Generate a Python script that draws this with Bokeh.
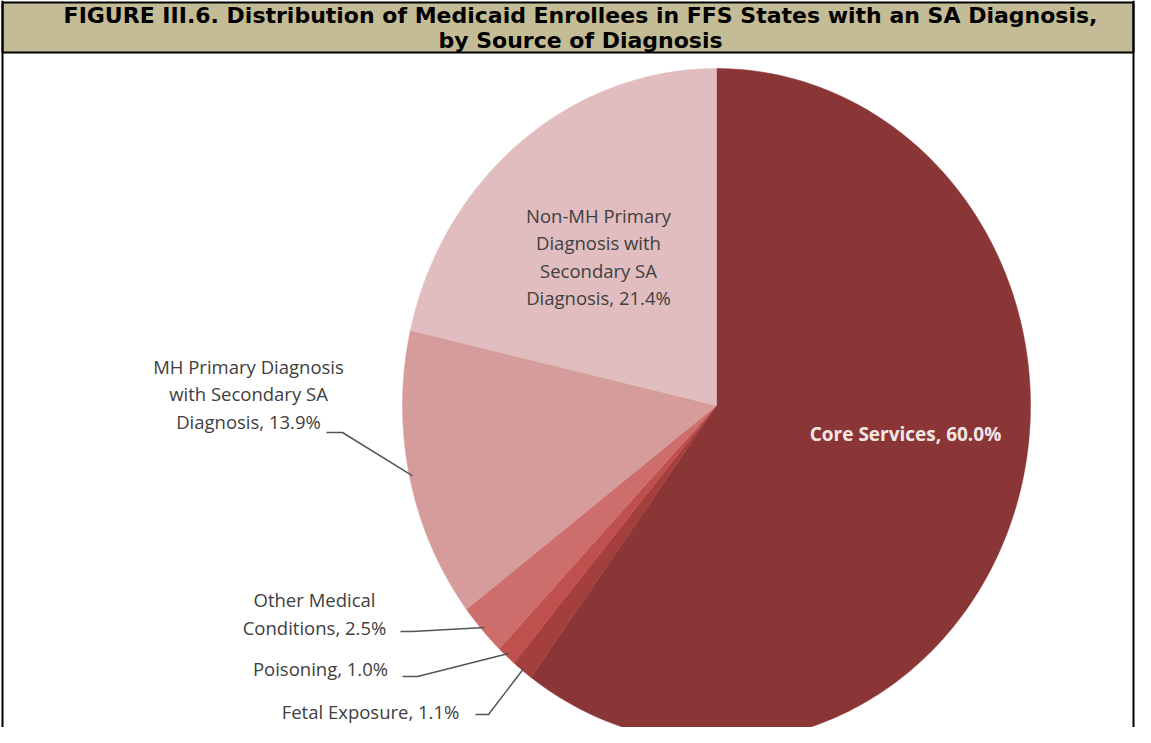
import textwrap
import numpy as np
from bokeh.plotting import figure
from bokeh.models import Range1d, Span, ColumnDataSource
from bokeh.core.properties import value
from bokeh.embed import file_html
from bokeh.resources import INLINE

# ---------------- data ----------------
categories = [
    "Core Services",
    "Fetal Exposure",
    "Poisoning",
    "Other Medical Conditions",
    "MH Primary Diagnosis with Secondary SA Diagnosis",
    "Non-MH Primary Diagnosis with Secondary SA Diagnosis",
]
percent = [60.0, 1.1, 1.0, 2.5, 13.9, 21.4]
colors = ["#8B3636", "#A53F3D", "#C0504D", "#CD6E6C", "#D69C9C", "#E1BDBF"]
title_lines = [
    "FIGURE III.6. Distribution of Medicaid Enrollees in FFS States with an SA Diagnosis,",
    "by Source of Diagnosis",
]

# ---------------- layout (screen pixel coordinates) ----------------
W, H = 1135, 727
CX, CY, RX, RY = 716, 405, 314, 337
wrap_width = [40, 40, 40, 16, 20, 16]
label_pos = [(905, 433), (370, 711), (320, 668), (314, 613), (248, 393), (598, 256)]
leader_start = [None, (475, 714), (402, 676), (400, 631), (326, 432), None]
leader_knee = [None, (488, 714), (417, 676), (412, 631), (342, 432), None]

p = figure(width=W, height=H, x_range=Range1d(0, W), y_range=Range1d(H, 0),
           output_backend="svg", toolbar_location=None, min_border=0)
p.axis.visible = False
p.grid.visible = False
p.outline_line_color = None
p.background_fill_color = "white"
p.border_fill_color = "white"

# pie slices (clockwise from 12 o'clock), derived from the data
fr = np.array(percent) / np.sum(percent)
cum = np.concatenate([[0], np.cumsum(fr)])
xs, ys, mids = [], [], []
for i in range(len(percent)):
    a0 = np.pi / 2 - 2 * np.pi * cum[i]
    a1 = np.pi / 2 - 2 * np.pi * cum[i + 1]
    n = max(4, int(400 * fr[i]))
    t = np.linspace(a0, a1, n)
    xs.append([CX] + list(CX + RX * np.cos(t)))
    ys.append([CY] + list(CY - RY * np.sin(t)))
    mids.append((a0 + a1) / 2)

p.patches(xs, ys, fill_color=colors, line_color=colors, line_width=0.5)

# labels
texts = []
for c, v, w in zip(categories, percent, wrap_width):
    texts.append(textwrap.fill(f"{c}, {v:.1f}%", width=w))

lab = ColumnDataSource(dict(
    x=[lp[0] for lp in label_pos[1:]],
    y=[lp[1] for lp in label_pos[1:]],
    t=texts[1:],
))
p.text("x", "y", "t", source=lab, text_align="center", text_baseline="middle",
       text_font=value("Open Sans"), text_font_size="18.5px", text_color="#404040",
       text_line_height=1.1)
p.text(x=[label_pos[0][0]], y=[label_pos[0][1]], text=[texts[0]],
       text_align="center", text_baseline="middle", text_font=value("Open Sans"),
       text_font_size="19px", text_font_style="bold", text_color="#F4E6E6")

# leader lines
lx, ly = [], []
for i in range(len(percent)):
    if leader_start[i] is None:
        continue
    ex = CX + 0.99 * RX * np.cos(mids[i])
    ey = CY - 0.99 * RY * np.sin(mids[i])
    lx.append([leader_start[i][0], leader_knee[i][0], ex])
    ly.append([leader_start[i][1], leader_knee[i][1], ey])
p.multi_line(lx, ly, line_color="#555555", line_width=1.5)

# title bar and frame
p.quad(left=[2], right=[W - 2], top=[2], bottom=[52], fill_color="#C4BC96",
       line_color="black", line_width=2)
p.text(x=[580, 580], y=[15, 40], text=title_lines, text_align="center",
       text_baseline="middle", text_font=value("DejaVu Sans"),
       text_font_size="22px", text_font_style="bold", text_color="black")
p.add_layout(Span(location=2, dimension="height", line_color="black", line_width=2))
p.add_layout(Span(location=W - 2, dimension="height", line_color="black", line_width=2))

open("out.html", "w").write(file_html(p, INLINE))
